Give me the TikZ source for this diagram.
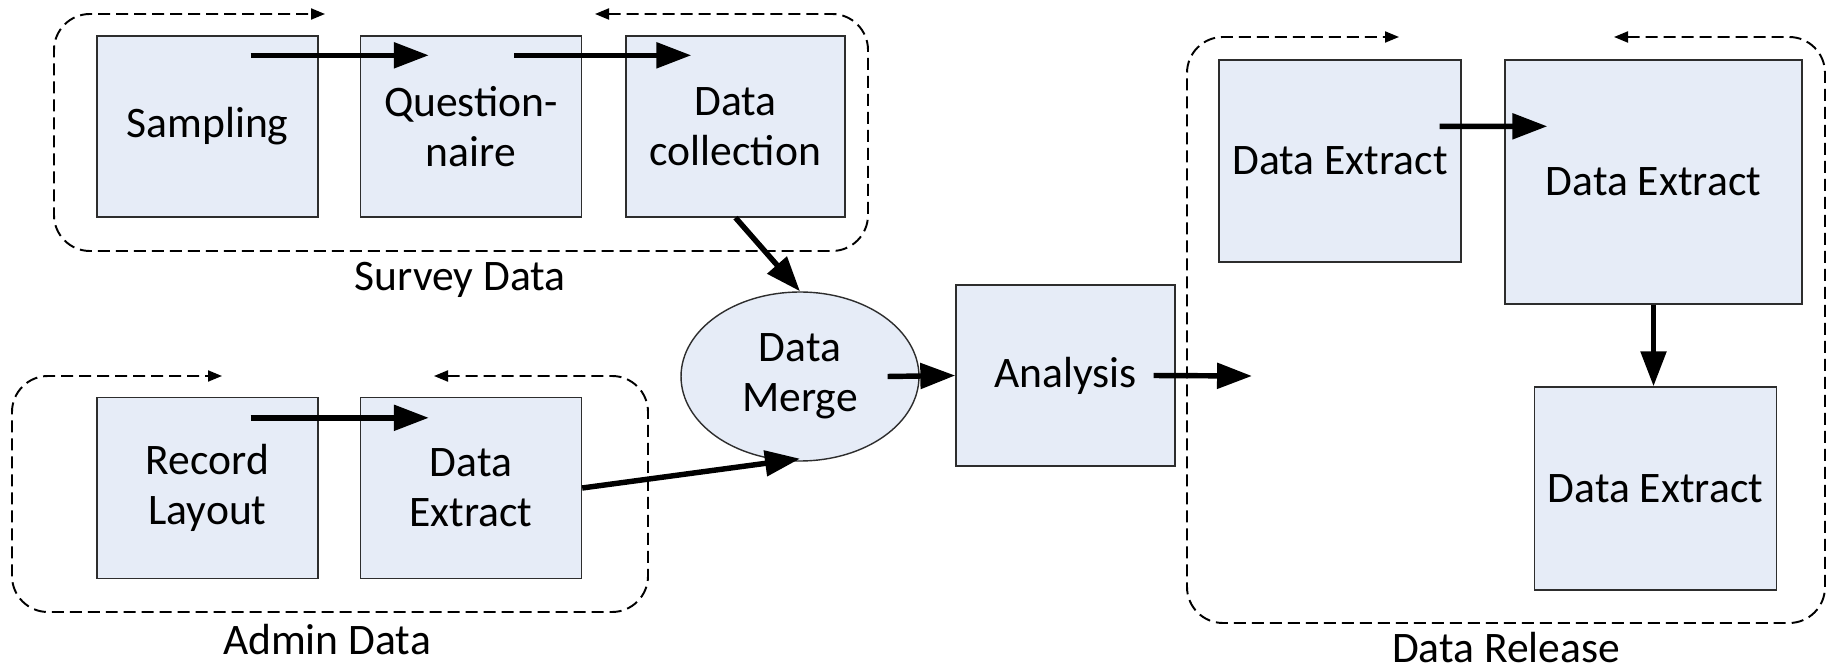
\documentclass[tikz,border=0pt]{standalone}
\usepackage{fontspec}
\setmainfont{Carlito}
\usepackage{tikz}
\usetikzlibrary{arrows.meta, shapes.geometric, calc}

\definecolor{boxfill}{RGB}{230,236,247}
\definecolor{boxline}{RGB}{45,45,45}

\begin{document}
\begin{tikzpicture}[x=0.02cm, y=-0.02cm,
  stage/.style={draw=boxline, line width=0.8pt, fill=boxfill, inner sep=0pt,
    align=center, minimum width=4.42cm, minimum height=3.62cm},
  flow/.style={line width=3.1pt, -{Triangle[length=0.7cm,width=0.5cm]}},
  frame/.style={line width=1.1pt, dash pattern=on 0.24cm off 0.12cm,
    rounded corners=0.72cm,
    {Triangle[length=0.28cm,width=0.22cm]}-{Triangle[length=0.28cm,width=0.22cm]}},
  every node/.style={font=\fontsize{24.8pt}{28.5pt}\selectfont}]

\useasboundingbox[fill=white] (0,0) rectangle (1831,668);

% ============================
% SURVEY DATA
% ============================

\draw[frame] (595,14) -- (868,14) -- (868,251) -- (54,251) -- (54,14) -- (325,14);
\node (survey) at (460,280) {Survey Data};

\node[stage] (samp)  at (207.5,126.5) {Sampling};
\node[stage] (quest) at (471,126.5)   {Question-\\naire};
\node[stage, minimum width=4.38cm] (coll) at (735.5,126.5) {Data\\collection};

\draw[flow] ($(samp.north)+(43,20)$)  -- ($(quest.north west)+(69,20)$);
\draw[flow] ($(quest.north)+(43,20)$) -- ($(coll.north west)+(66,20)$);

% ============================
% ADMIN DATA
% ============================

\draw[frame] (434,376) -- (648,376) -- (648,612) -- (12,612) -- (12,376) -- (222,376);
\node (admin) at (327,640) {Admin Data};

\node[stage] (rec)   at (207.5,488) {Record\\Layout};
\node[stage] (adext) at (471,488)   {Data\\Extract};

\draw[flow] ($(rec.north)+(43,21)$) -- ($(adext.north west)+(69,21)$);

% ============================
% MERGE AND ANALYSIS
% ============================

\node[ellipse, draw=boxline, line width=0.8pt, fill=boxfill, inner sep=0pt,
  align=center, minimum width=4.76cm, minimum height=3.38cm]
  (merge) at (800,376.5) {Data\\Merge};
\node[stage, minimum width=4.38cm] (anal) at (1065.5,375.5) {Analysis};
\coordinate (out) at (1252,376);

\draw[flow] (coll.south) -- (merge.north);
\draw[flow] (adext.east) -- ([yshift=0.06cm]merge.south);
\draw[flow] ($(merge.east)+(-32,0)$) -- (anal.west);
\draw[flow] ($(anal.east)+(-22,0)$) -- (out);

% ============================
% DATA RELEASE
% ============================

\draw[frame] (1614,37) -- (1825,37) -- (1825,623) -- (1187,623) -- (1187,37) -- (1399,37);
\node (release) at (1506,648) {Data Release};

\node[stage, minimum width=4.84cm, minimum height=4.04cm] (rel1) at (1340,161)    {Data Extract};
\node[stage, minimum width=5.94cm, minimum height=4.88cm] (rel2) at (1653.5,182)  {Data Extract};
\node[stage, minimum width=4.84cm, minimum height=4.06cm] (rel3) at (1655.5,488.5) {Data Extract};

\draw[flow] ($(rel1.north east)+(-22,67)$) -- ($(rel2.north west)+(43,67)$);
\draw[flow] (rel2.south) -- (rel2.south |- rel3.north);

\end{tikzpicture}
\end{document}
